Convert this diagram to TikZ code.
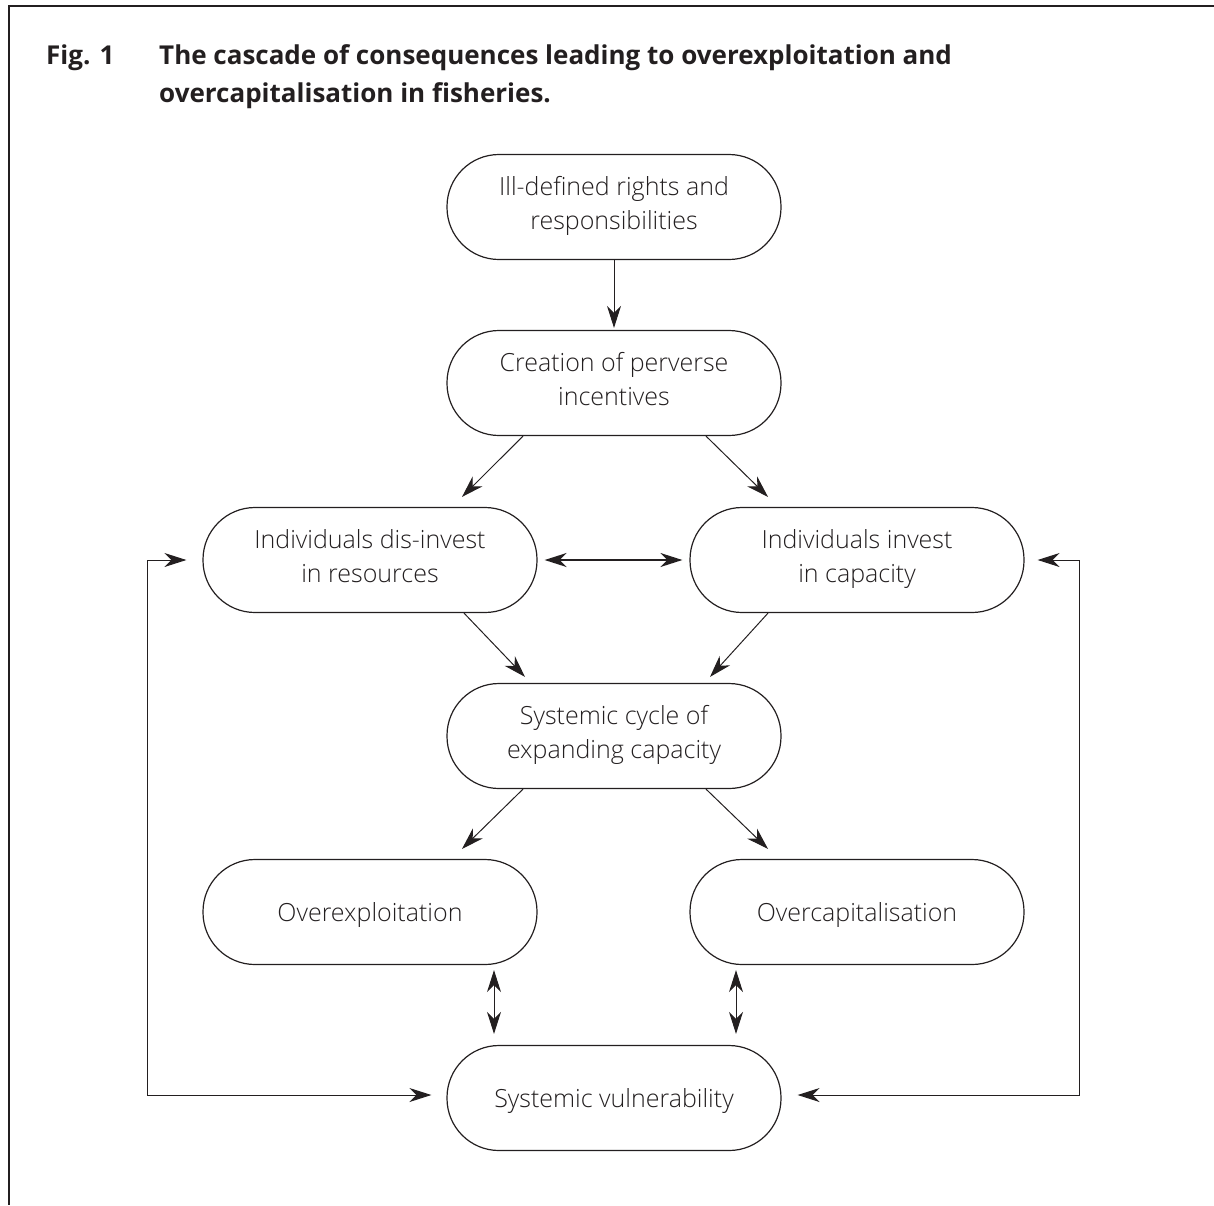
\documentclass[tikz,border=0pt]{standalone}
\usepackage{fontspec}
\setmainfont{Open Sans}
\newfontfamily\lightfont{Open Sans Light}
\usetikzlibrary{arrows.meta,calc}
\definecolor{ink}{HTML}{231F20}
\newcommand\boxstrut{\rule[-8pt]{0pt}{35pt}}
\begin{document}
\begin{tikzpicture}[x=1pt,y=-1pt,
  box/.style={draw=ink, line width=1.2pt, rounded corners=52pt, minimum width=334pt, minimum height=105pt,
    align=center, inner sep=0pt, text=ink, font=\lightfont\fontsize{25}{34}\selectfont,
    execute at begin node=\boxstrut, execute at end node=\boxstrut},
  tip/.tip={Stealth[length=22pt,width=14pt,inset=7pt]},
  arr/.style={-tip, draw=ink, line width=1pt},
  darr/.style={tip-tip, draw=ink, line width=1pt},
  title/.style={anchor=base west, inner sep=0pt, text=ink, font=\fontsize{26}{30}\selectfont\bfseries},
]
\useasboundingbox (0,0) rectangle (1214,1205);
\draw[ink, line width=2pt] (1214,6) -- (9,6) -- (9,1205);

\node[title] (fig) at (46,64) {Fig. 1};
\node[title] (t1) at (159,64) {The cascade of consequences leading to overexploitation and};
\node[title] (t2) at (159,102) {overcapitalisation in fisheries.};

\node[box] (n1) at (614,207) {Ill-defined rights and\\responsibilities};
\node[box] (n2) at (614,383) {Creation of perverse\\incentives};
\node[box] (n3) at (370,560) {Individuals dis-invest\\in resources};
\node[box] (n4) at (857,560) {Individuals invest\\in capacity};
\node[box] (n5) at (614,736) {Systemic cycle of\\expanding capacity};
\node[box] (n6) at (370,912) {Overexploitation};
\node[box] (n7) at (857,912) {Overcapitalisation};
\node[box] (n8) at (614,1098) {Systemic vulnerability};

\draw[arr] (n1.south) -- ($(n2.north)+(0,-2)$);
\draw[arr] ($(n2.south)+(-91,0)$) -- ($(n3.north)+(92,-10)$);
\draw[arr] ($(n2.south)+(92,0)$) -- ($(n4.north)+(-89,-10)$);
\draw[darr, line width=2pt] ($(n3.east)+(7,0)$) -- ($(n4.west)+(-7,0)$);
\draw[arr] ($(n3.south)+(94,0)$) -- ($(n5.north)+(-89,-6)$);
\draw[arr] ($(n4.south)+(-89,0)$) -- ($(n5.north)+(96,-6)$);
\draw[arr] ($(n5.south)+(-91,0)$) -- ($(n6.north)+(92,-10)$);
\draw[arr] ($(n5.south)+(92,0)$) -- ($(n7.north)+(-89,-10)$);
\draw[darr] ($(n6.south)+(124,5)$) -- ($(n8.north)+(-120,-11)$);
\draw[darr] ($(n7.south)+(-121,5)$) -- ($(n8.north)+(122,-11)$);
\draw[darr] ($(n3.west)+(-16,0)$) -| (147,1095) -- ($(n8.west)+(-15,-3)$);
\draw[darr] ($(n4.east)+(13,0)$) -| (1079,1095) -- ($(n8.east)+(16,-3)$);
\end{tikzpicture}
\end{document}
